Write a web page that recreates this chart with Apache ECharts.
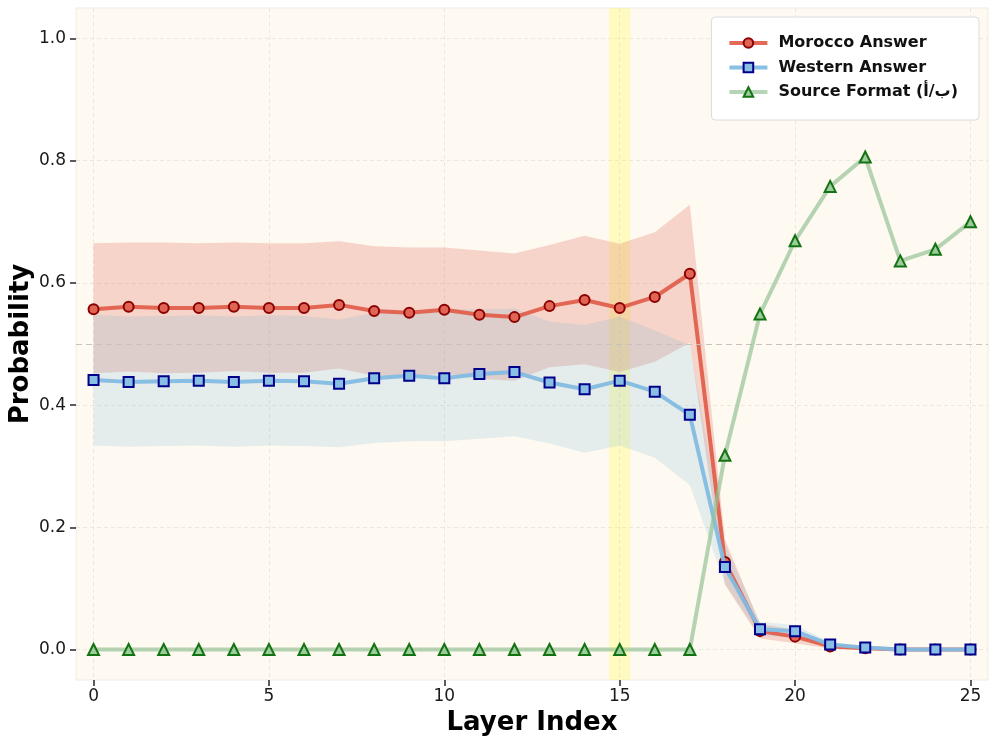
<!DOCTYPE html>
<html>
<head>
<meta charset="utf-8">
<script src="https://cdn.jsdelivr.net/npm/echarts@6/dist/echarts.min.js"></script>
<style>
html,body{margin:0;padding:0;background:#fff;}
#chart{width:996px;height:745px;}
</style>
</head>
<body>
<div id="chart"></div>
<script>
const layers = [0,1,2,3,4,5,6,7,8,9,10,11,12,13,14,15,16,17,18,19,20,21,22,23,24,25];
const xTicks = [0,5,10,15,20,25];
const yTicks = [0,0.2,0.4,0.6,0.8,1.0];

const morocco = [0.557,0.561,0.559,0.559,0.561,0.559,0.559,0.564,0.554,0.551,0.556,0.548,0.544,0.562,0.572,0.559,0.577,0.615,0.143,0.030,0.021,0.005,0.002,0.000,0.000,0.000];
const moroccoUpper = [0.665,0.666,0.666,0.665,0.666,0.665,0.665,0.668,0.660,0.658,0.658,0.653,0.648,0.662,0.677,0.664,0.683,0.728,0.180,0.042,0.032,0.009,0.004,0.001,0.001,0.001];
const moroccoLower = [0.452,0.455,0.452,0.453,0.456,0.453,0.453,0.460,0.448,0.445,0.452,0.443,0.440,0.462,0.467,0.454,0.471,0.502,0.106,0.018,0.010,0.001,0.000,0.000,0.000,0.000];

const western = [0.441,0.438,0.439,0.440,0.438,0.440,0.439,0.435,0.444,0.448,0.444,0.451,0.454,0.437,0.426,0.440,0.422,0.384,0.135,0.033,0.030,0.008,0.003,0.000,0.000,0.000];
const westernUpper = [0.548,0.545,0.546,0.547,0.545,0.547,0.546,0.540,0.551,0.555,0.556,0.557,0.558,0.537,0.531,0.545,0.522,0.498,0.172,0.045,0.040,0.012,0.005,0.001,0.001,0.001];
const westernLower = [0.334,0.332,0.333,0.334,0.332,0.334,0.333,0.331,0.338,0.341,0.341,0.345,0.349,0.337,0.322,0.334,0.314,0.269,0.108,0.022,0.020,0.004,0.001,0.000,0.000,0.000];

const source = [0,0,0,0,0,0,0,0,0,0,0,0,0,0,0,0,0,0,0.318,0.549,0.669,0.758,0.806,0.636,0.655,0.700];

const highlightLayer = [14.7, 15.3];
const refLine = 0.5;

// Arabic letters shown in stored (left-to-right) order, as in the reference
const seriesNames = ['Morocco Answer', 'Western Answer', 'Source Format (\u202Dأ/ب\u202C)'];

const FONT = 'DejaVu Sans';
const pairs = (xs, ys) => xs.map((x, i) => [x, ys[i]]);

function bandSeries(name, upper, lower, color, extra) {
  return Object.assign({
    type: 'custom',
    name: name,
    silent: true,
    clip: true,
    z: 1,
    data: [[0, 0]],
    renderItem: function (params, api) {
      const pts = [];
      for (let i = 0; i < layers.length; i++) pts.push(api.coord([layers[i], upper[i]]));
      for (let i = layers.length - 1; i >= 0; i--) pts.push(api.coord([layers[i], lower[i]]));
      return {
        type: 'polygon',
        shape: { points: pts },
        style: { fill: color, stroke: null }
      };
    }
  }, extra || {});
}

const chart = echarts.init(document.getElementById('chart'), null, { renderer: 'canvas' });

chart.setOption({
  animation: false,
  backgroundColor: '#ffffff',
  textStyle: { fontFamily: FONT },
  grid: {
    left: 76, right: 8, top: 8, bottom: 65,
    outerBoundsMode: 'none',
    containLabel: false,
    show: true,
    backgroundColor: '#fef9f1',
    borderColor: '#f1ece4',
    borderWidth: 1
  },
  legend: {
    orient: 'vertical',
    right: 17,
    top: 17,
    backgroundColor: '#ffffff',
    borderColor: '#dcdcdc',
    borderWidth: 1,
    borderRadius: 4,
    padding: [17, 21, 19, 16],
    itemGap: 6.5,
    itemWidth: 38,
    itemHeight: 12,
    textStyle: { fontFamily: FONT, fontWeight: 'bold', fontSize: 16, lineHeight: 18, color: '#111', padding: [0, 0, 0, 6] },
    data: [
      { name: seriesNames[0], lineStyle: { width: 4 } },
      { name: seriesNames[1], lineStyle: { width: 4 } },
      { name: seriesNames[2], lineStyle: { width: 4 } }
    ]
  },
  xAxis: {
    type: 'value',
    min: -0.5,
    max: 25.5,
    name: 'Layer Index',
    nameLocation: 'middle',
    nameGap: 30,
    nameMoveOverlap: false,
    nameTextStyle: { fontFamily: FONT, fontWeight: 'bold', fontSize: 26, color: '#000' },
    axisLine: { show: false, onZero: false },
    axisTick: { show: true, customValues: xTicks, length: 6, lineStyle: { color: '#333', width: 1.6 } },
    axisLabel: { customValues: xTicks, fontFamily: FONT, fontSize: 17, color: '#1a1a1a', margin: 8 },
    splitLine: { show: true, lineStyle: { color: '#e9e3da', type: [4, 3], width: 0.8 } }
  },
  yAxis: {
    type: 'value',
    min: -0.05,
    max: 1.05,
    name: 'Probability',
    nameLocation: 'middle',
    nameGap: 42,
    nameRotate: 90,
    nameMoveOverlap: false,
    nameTextStyle: { fontFamily: FONT, fontWeight: 'bold', fontSize: 26, color: '#000' },
    axisLine: { show: false, onZero: false },
    axisTick: { show: true, customValues: yTicks, length: 6, lineStyle: { color: '#333', width: 1.6 } },
    axisLabel: { customValues: yTicks, fontFamily: FONT, fontSize: 17, color: '#1a1a1a', margin: 10,
      formatter: v => v.toFixed(1) },
    splitLine: { show: true, lineStyle: { color: '#e9e3da', type: [4, 3], width: 0.8 } }
  },
  series: [
    bandSeries('moroccoBand', moroccoUpper, moroccoLower, 'rgba(225,105,85,0.25)', {
      markArea: {
        silent: true,
        itemStyle: { color: 'rgba(255,255,0,0.2)' },
        data: [[{ xAxis: highlightLayer[0] }, { xAxis: highlightLayer[1] }]]
      },
      markLine: {
        silent: true,
        symbol: 'none',
        label: { show: false },
        lineStyle: { color: '#c9c2ba', type: [6, 4], width: 1 },
        data: [{ yAxis: refLine }]
      }
    }),
    bandSeries('westernBand', westernUpper, westernLower, 'rgba(110,180,215,0.18)'),
    {
      type: 'line',
      name: seriesNames[0],
      z: 3,
      data: pairs(layers, morocco),
      symbol: 'circle',
      symbolSize: 10,
      showAllSymbol: true,
      lineStyle: { color: 'rgba(224,90,70,0.9)', width: 4 },
      itemStyle: { color: '#e06555', borderColor: '#8b0000', borderWidth: 2 }
    },
    {
      type: 'line',
      name: seriesNames[1],
      z: 4,
      data: pairs(layers, western),
      symbol: 'rect',
      symbolSize: 10,
      showAllSymbol: true,
      lineStyle: { color: 'rgba(130,188,225,0.95)', width: 4 },
      itemStyle: { color: '#88bfe3', borderColor: '#00008b', borderWidth: 2 }
    },
    {
      type: 'line',
      name: seriesNames[2],
      z: 5,
      data: pairs(layers, source),
      symbol: 'triangle',
      symbolSize: 11,
      showAllSymbol: true,
      lineStyle: { color: 'rgba(150,195,150,0.7)', width: 4 },
      itemStyle: { color: '#9ccb9c', borderColor: '#137313', borderWidth: 2 }
    }
  ]
});
</script>
</body>
</html>
